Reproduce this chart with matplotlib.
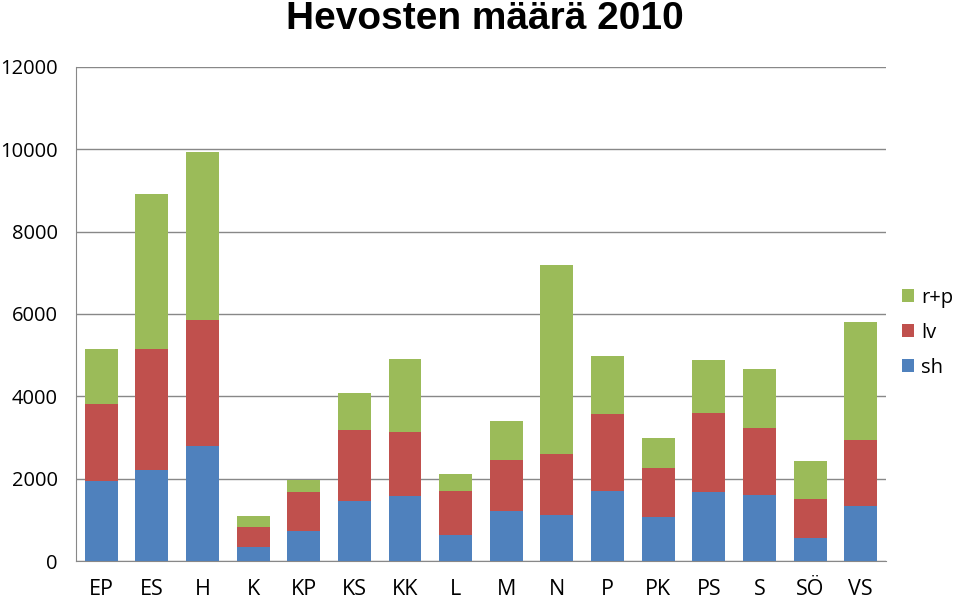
import matplotlib
matplotlib.use("Agg")
import matplotlib.pyplot as plt
import numpy as np

categories = ["EP", "ES", "H", "K", "KP", "KS", "KK", "L", "M", "N", "P", "PK", "PS", "S", "SÖ", "VS"]
sh = [1940, 2210, 2800, 340, 730, 1460, 1580, 630, 1210, 1120, 1700, 1070, 1680, 1600, 560, 1330]
lv = [1870, 2940, 3050, 490, 950, 1720, 1550, 1070, 1240, 1480, 1870, 1190, 1910, 1630, 950, 1610]
rp = [1340, 3760, 4080, 270, 290, 900, 1770, 410, 950, 4590, 1410, 730, 1290, 1430, 920, 2870]
y_ticks = [0, 2000, 4000, 6000, 8000, 10000, 12000]

plt.rcParams['font.family'] = ['Open Sans', 'DejaVu Sans']
fig = plt.figure(figsize=(9.6, 6.02), dpi=100)
ax = fig.add_axes([0.079, 0.068, 0.844, 0.821])

x = np.arange(len(categories))
w = 0.65
c_sh, c_lv, c_rp = "#4F81BD", "#C0504D", "#9BBB59"
b1 = ax.bar(x, sh, w, color=c_sh, label="sh", zorder=3)
b2 = ax.bar(x, lv, w, bottom=sh, color=c_lv, label="lv", zorder=3)
bottom2 = np.array(sh) + np.array(lv)
b3 = ax.bar(x, rp, w, bottom=bottom2, color=c_rp, label="r+p", zorder=3)

ax.set_xlim(-0.5, len(categories) - 0.5)
ax.set_ylim(0, 12000)
ax.set_yticks(y_ticks)
ax.set_yticklabels([str(v) for v in y_ticks])
ax.set_xticks(x)
ax.set_xticklabels(categories)
ax.tick_params(axis='both', length=0, colors="black")
ax.tick_params(axis='x', pad=13, labelsize=15.5)
ax.tick_params(axis='y', pad=13, labelsize=14.5)
ax.yaxis.grid(True, color="#888888", linewidth=1, zorder=0)
for s in ["top", "right"]:
    ax.spines[s].set_visible(False)
for s in ["left", "bottom"]:
    ax.spines[s].set_color("#888888")

fig.text(0.505, 0.968, "Hevosten määrä 2010", ha="center", va="center",
         fontsize=28, fontweight="bold", family=["Liberation Sans", "DejaVu Sans"])

ax.legend(handles=[b3, b2, b1], labels=["r+p", "lv", "sh"], loc="center left",
          bbox_to_anchor=(1.02, 0.462), frameon=False, fontsize=14.5,
          handlelength=0.6, handleheight=0.6, handletextpad=0.35, labelspacing=0.75,
          borderaxespad=0, borderpad=0)

fig.savefig("out.png", dpi=100)
